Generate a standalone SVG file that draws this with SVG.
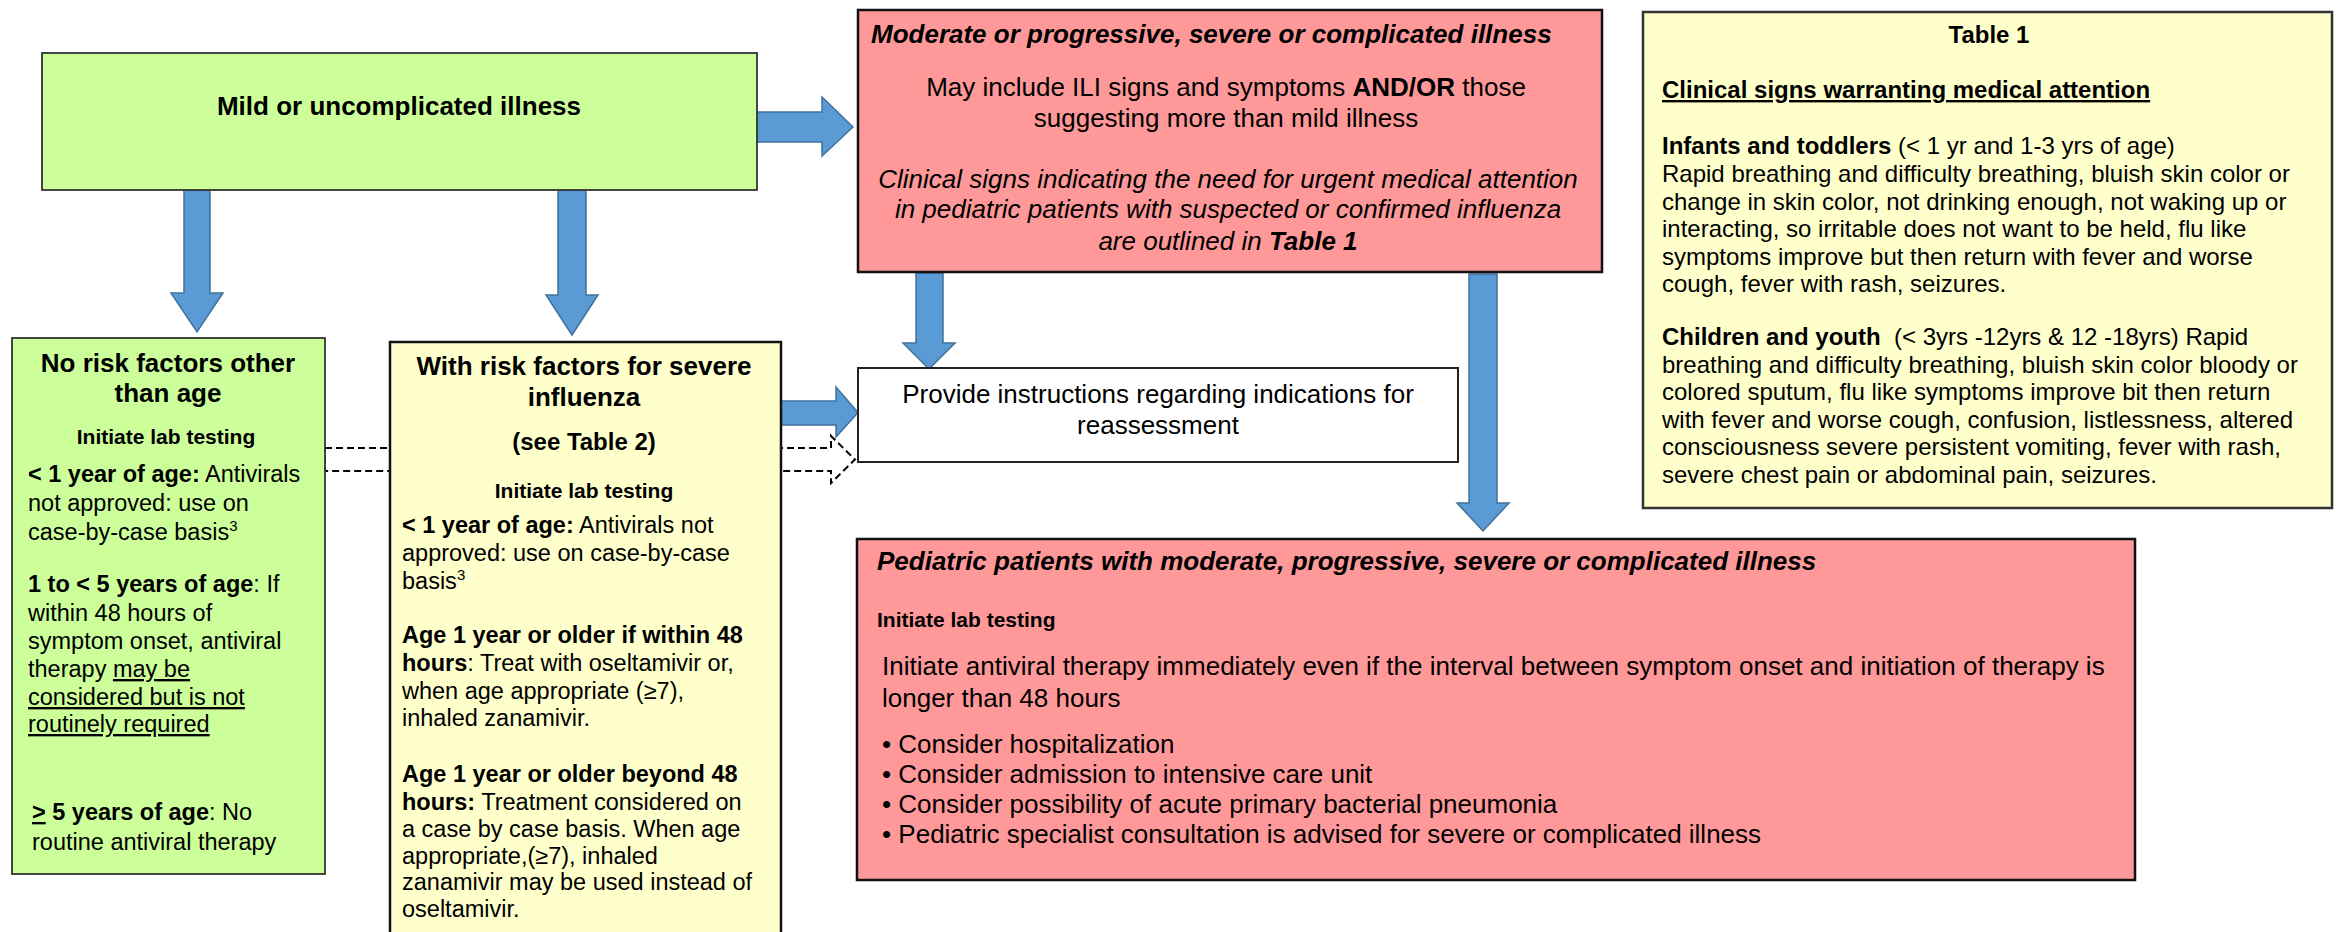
<svg xmlns="http://www.w3.org/2000/svg" width="2336" height="932" viewBox="0 0 2336 932">
<style>
.bg{fill:#fff}
.box-green{fill:#CCFF99;stroke:#333;stroke-width:1.8}
.box-yellow{fill:#FFFFCC;stroke:#111;stroke-width:2.5}
.box-table{fill:#FFFFCC;stroke:#333;stroke-width:2.5}
.box-red{fill:#FF9999;stroke:#111;stroke-width:2.5}
.box-white{fill:#fff;stroke:#222;stroke-width:2}
.arrow{fill:#5B9BD5;stroke:#41719C;stroke-width:1.5}
.dash{fill:none;stroke:#000;stroke-width:2;stroke-dasharray:7 4}
text{font-family:'Liberation Sans',Arial,sans-serif;fill:#000}
.b{font-weight:bold}
.i{font-style:italic}
.u{text-decoration:underline}
.c{text-anchor:middle}
.f26{font-size:26px}
.f24{font-size:24px}
.f235{font-size:23.5px}
.f21{font-size:21px}
</style>
<rect class="bg" x="0" y="0" width="2336" height="932"/>

<g id="connectors">
  <!-- dashed outline block arrow from No-risk box to Provide box (behind With-risk box) -->
  <polygon class="dash" points="325,448 831,448 831,436 855,459.5 831,483 831,471 325,471"/>
  <!-- Mild -> No risk -->
  <polygon class="arrow" points="184,190 210,190 210,293 223,293 197,332 171,293 184,293"/>
  <!-- Mild -> With risk -->
  <polygon class="arrow" points="558,190 586,190 586,295 598,295 572,335 546,295 558,295"/>
  <!-- Mild -> Moderate -->
  <polygon class="arrow" points="757,112 822,112 822,97 853,127 822,156 822,142 757,142"/>
  <!-- Moderate -> Provide -->
  <polygon class="arrow" points="916,273 943,273 943,343 955,343 929,369 903,343 916,343"/>
  <!-- Moderate -> Pediatric -->
  <polygon class="arrow" points="1469,274 1497,274 1497,503 1509,503 1483,531 1457,503 1469,503"/>
  <!-- With risk -> Provide -->
  <polygon class="arrow" points="781,401 836,401 836,387 858,412.5 836,437 836,425 781,425"/>
</g>

<g id="mild">
  <rect class="box-green" x="42" y="53" width="715" height="137"/>
  <text class="b c f26" x="399" y="115">Mild or uncomplicated illness</text>
</g>

<g id="moderate">
  <rect class="box-red" x="858" y="10" width="744" height="262"/>
  <text class="b i f26" x="871" y="43">Moderate or progressive, severe or complicated illness</text>
  <text class="c f26" x="1226" y="96">May include ILI signs and symptoms <tspan class="b">AND/OR</tspan> those</text>
  <text class="c f26" x="1226" y="127">suggesting more than mild illness</text>
  <text class="i c f26" x="1228" y="188">Clinical signs indicating the need for urgent medical attention</text>
  <text class="i c f26" x="1228" y="218">in pediatric patients with suspected or confirmed influenza</text>
  <text class="i c f26" x="1228" y="250">are outlined in <tspan class="b">Table 1</tspan></text>
</g>

<g id="table1">
  <rect class="box-table" x="1643" y="12" width="689" height="496"/>
  <text class="b c f24" x="1989" y="43">Table 1</text>
  <text class="b u f24" x="1662" y="98">Clinical signs warranting medical attention</text>
  <text class="f24" x="1662" y="154"><tspan class="b">Infants and toddlers</tspan> (&lt; 1 yr and 1-3 yrs of age)</text>
  <text class="f24" x="1662" y="182">Rapid breathing and difficulty breathing, bluish skin color or</text>
  <text class="f24" x="1662" y="209.5">change in skin color, not drinking enough, not waking up or</text>
  <text class="f24" x="1662" y="237">interacting, so irritable does not want to be held, flu like</text>
  <text class="f24" x="1662" y="264.5">symptoms improve but then return with fever and worse</text>
  <text class="f24" x="1662" y="292">cough, fever with rash, seizures.</text>
  <text class="f24" x="1662" y="345" xml:space="preserve"><tspan class="b">Children and youth</tspan>  (&lt; 3yrs -12yrs &amp; 12 -18yrs) Rapid</text>
  <text class="f24" x="1662" y="372.5">breathing and difficulty breathing, bluish skin color bloody or</text>
  <text class="f24" x="1662" y="400">colored sputum, flu like symptoms improve bit then return</text>
  <text class="f24" x="1662" y="427.5">with fever and worse cough, confusion, listlessness, altered</text>
  <text class="f24" x="1662" y="455">consciousness severe persistent vomiting, fever with rash,</text>
  <text class="f24" x="1662" y="482.5">severe chest pain or abdominal pain, seizures.</text>
</g>

<g id="no-risk">
  <rect class="box-green" x="12" y="338" width="313" height="536"/>
  <text class="b c f26" x="168" y="372">No risk factors other</text>
  <text class="b c f26" x="168" y="402">than age</text>
  <text class="b c f21" x="166" y="444">Initiate lab testing</text>
  <text class="f235" x="28" y="482"><tspan class="b">&lt; 1 year of age:</tspan> Antivirals</text>
  <text class="f235" x="28" y="511">not approved: use on</text>
  <text class="f235" x="28" y="540">case-by-case basis<tspan font-size="15" dy="-9">3</tspan></text>
  <text class="f235" x="28" y="592"><tspan class="b">1 to &lt; 5 years of age</tspan>: If</text>
  <text class="f235" x="28" y="620.5">within 48 hours of</text>
  <text class="f235" x="28" y="649">symptom onset, antiviral</text>
  <text class="f235" x="28" y="677">therapy <tspan class="u">may be</tspan></text>
  <text class="f235 u" x="28" y="705">considered but is not</text>
  <text class="f235 u" x="28" y="732">routinely required</text>
  <text class="f235" x="32" y="820"><tspan class="b u">&gt;</tspan><tspan class="b"> 5 years of age</tspan>: No</text>
  <text class="f235" x="32" y="850">routine antiviral therapy</text>
</g>

<g id="with-risk">
  <rect class="box-yellow" x="390" y="342" width="391" height="610"/>
  <text class="b c f26" x="584" y="375">With risk factors for severe</text>
  <text class="b c f26" x="584" y="406">influenza</text>
  <text class="b c f24" x="584" y="450">(see Table 2)</text>
  <text class="b c f21" x="584" y="498">Initiate lab testing</text>
  <text class="f235" x="402" y="533"><tspan class="b">&lt; 1 year of age:</tspan> Antivirals not</text>
  <text class="f235" x="402" y="561">approved: use on case-by-case</text>
  <text class="f235" x="402" y="589">basis<tspan font-size="15" dy="-9">3</tspan></text>
  <text class="f235 b" x="402" y="643">Age 1 year or older if within 48</text>
  <text class="f235" x="402" y="670.5"><tspan class="b">hours</tspan>: Treat with oseltamivir or,</text>
  <text class="f235" x="402" y="699">when age appropriate (≥7),</text>
  <text class="f235" x="402" y="726">inhaled zanamivir.</text>
  <text class="f235 b" x="402" y="782">Age 1 year or older beyond 48</text>
  <text class="f235" x="402" y="810"><tspan class="b">hours:</tspan> Treatment considered on</text>
  <text class="f235" x="402" y="837">a case by case basis. When age</text>
  <text class="f235" x="402" y="863.5">appropriate,(≥7), inhaled</text>
  <text class="f235" x="402" y="890">zanamivir may be used instead of</text>
  <text class="f235" x="402" y="916.5">oseltamivir.</text>
</g>

<g id="provide">
  <rect class="box-white" x="858" y="368" width="600" height="94"/>
  <text class="c f26" x="1158" y="403">Provide instructions regarding indications for</text>
  <text class="c f26" x="1158" y="434">reassessment</text>
</g>

<g id="pediatric">
  <rect class="box-red" x="857" y="539" width="1278" height="341"/>
  <text class="b i f26" x="877" y="570">Pediatric patients with moderate, progressive, severe or complicated illness</text>
  <text class="b f21" x="877" y="627">Initiate lab testing</text>
  <text class="f26" x="882" y="675">Initiate antiviral therapy immediately even if the interval between symptom onset and initiation of therapy is</text>
  <text class="f26" x="882" y="707">longer than 48 hours</text>
  <text class="f26" x="882" y="753">• Consider hospitalization</text>
  <text class="f26" x="882" y="783">• Consider admission to intensive care unit</text>
  <text class="f26" x="882" y="813">• Consider possibility of acute primary bacterial pneumonia</text>
  <text class="f26" x="882" y="843">• Pediatric specialist consultation is advised for severe or complicated illness</text>
</g>
</svg>
